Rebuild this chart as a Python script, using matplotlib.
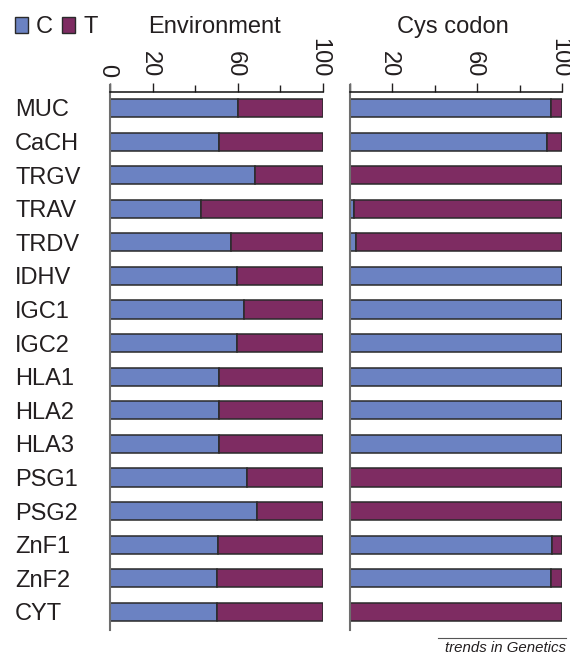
import matplotlib
matplotlib.use("Agg")
from matplotlib import pyplot as plt
from matplotlib.patches import Rectangle
from matplotlib.transforms import ScaledTranslation
import numpy as np

plt.rcParams['font.family'] = ['Liberation Sans', 'DejaVu Sans']

genes = ['MUC', 'CaCH', 'TRGV', 'TRAV', 'TRDV', 'IDHV', 'IGC1', 'IGC2',
         'HLA1', 'HLA2', 'HLA3', 'PSG1', 'PSG2', 'ZnF1', 'ZnF2', 'CYT']
# percent C, the rest is T
env_c = [60, 51.4, 68.4, 43, 57, 59.6, 63.2, 59.6, 51.4, 51.4, 51.4, 64.5, 69, 50.8, 50.3, 50.3]
cys_c = [95, 92.8, 0, 2, 3, 100, 100, 100, 100, 100, 100, 0, 0, 95.5, 95, 0]

ticks = [0, 20, 60, 100]
minor_ticks = [40, 80]
env_ticklabels = ['0', '20', '60', '100']
cys_ticklabels = ['', '20', '60', '100']

blue = '#6b82c2'
purple = '#7e2c62'
edge = '#2a2a2a'
txt = '#231f20'
FS = 17

W, H = 570, 655
fig = plt.figure(figsize=(W / 100, H / 100), dpi=100)


def px_rect(x0, y0, x1, y1):
    return [x0 / W, 1 - y1 / H, (x1 - x0) / W, (y1 - y0) / H]


def draw_panel(ax, c_vals, ticklabels, title, title_x):
    y = np.arange(len(genes))
    c = np.array(c_vals)
    t = 100 - c
    ax.barh(y, c, height=0.54, color=blue, edgecolor=edge, linewidth=1.1)
    ax.barh(y, t, left=c, height=0.54, color=purple, edgecolor=edge, linewidth=1.1)
    ax.set_xlim(0, 100)
    ax.set_ylim(15.54, -0.476)
    for s in ['right', 'bottom', 'left']:
        ax.spines[s].set_visible(False)
    ax.spines['top'].set_color('#111111')
    ax.spines['top'].set_linewidth(1.1)
    ax.axvline(0, 0, 1.013, color='#6e6e6e', lw=1.5, clip_on=False)
    ax.xaxis.tick_top()
    ax.set_xticks(ticks, ticklabels)
    ax.set_xticks(minor_ticks, minor=True)
    ax.tick_params(axis='x', which='major', direction='out', length=6.5, width=1,
                   pad=4, labelsize=FS, labelrotation=-90, colors=txt)
    ax.tick_params(axis='x', which='minor', direction='out', length=5, width=1, color=txt)
    shift = ScaledTranslation(-3 / 100, 0, fig.dpi_scale_trans)
    for lab in ax.get_xticklabels():
        lab.set_transform(lab.get_transform() + shift)
    fig.text(title_x / W, 1 - 33 / H, title, ha='center', va='baseline', size=FS, color=txt)


ax1 = fig.add_axes(px_rect(110, 92, 322.5, 630))
ax2 = fig.add_axes(px_rect(349.5, 92, 562, 630))

draw_panel(ax1, env_c, env_ticklabels, 'Environment', 215)
draw_panel(ax2, cys_c, cys_ticklabels, 'Cys codon', 453)

ax1.set_yticks(np.arange(len(genes)), genes)
ax1.tick_params(axis='y', length=0, pad=68.4, labelsize=FS, colors=txt)
for lab in ax1.get_yticklabels():
    lab.set_horizontalalignment('left')
ax2.set_yticks([])

# legend squares
for x0, col, lab, tx in [(14.5, blue, 'C', 35.5), (61.5, purple, 'T', 84)]:
    fig.patches.append(Rectangle((x0 / W, 1 - 32.5 / H), 13 / W, 15.5 / H,
                                 transform=fig.transFigure, facecolor=col,
                                 edgecolor=edge, linewidth=1))
    fig.text(tx / W, 1 - 33 / H, lab, ha='left', va='baseline', size=FS, color=txt)

# journal tag
fig.add_artist(plt.Line2D([438 / W, 566 / W], [1 - 638 / H, 1 - 638 / H],
                          transform=fig.transFigure, color='#555555', lw=0.8))
fig.text(566 / W, 1 - 652 / H, 'trends in Genetics', ha='right', va='baseline',
         size=10.8, style='italic', color=txt)

fig.savefig('out.png', dpi=100)
